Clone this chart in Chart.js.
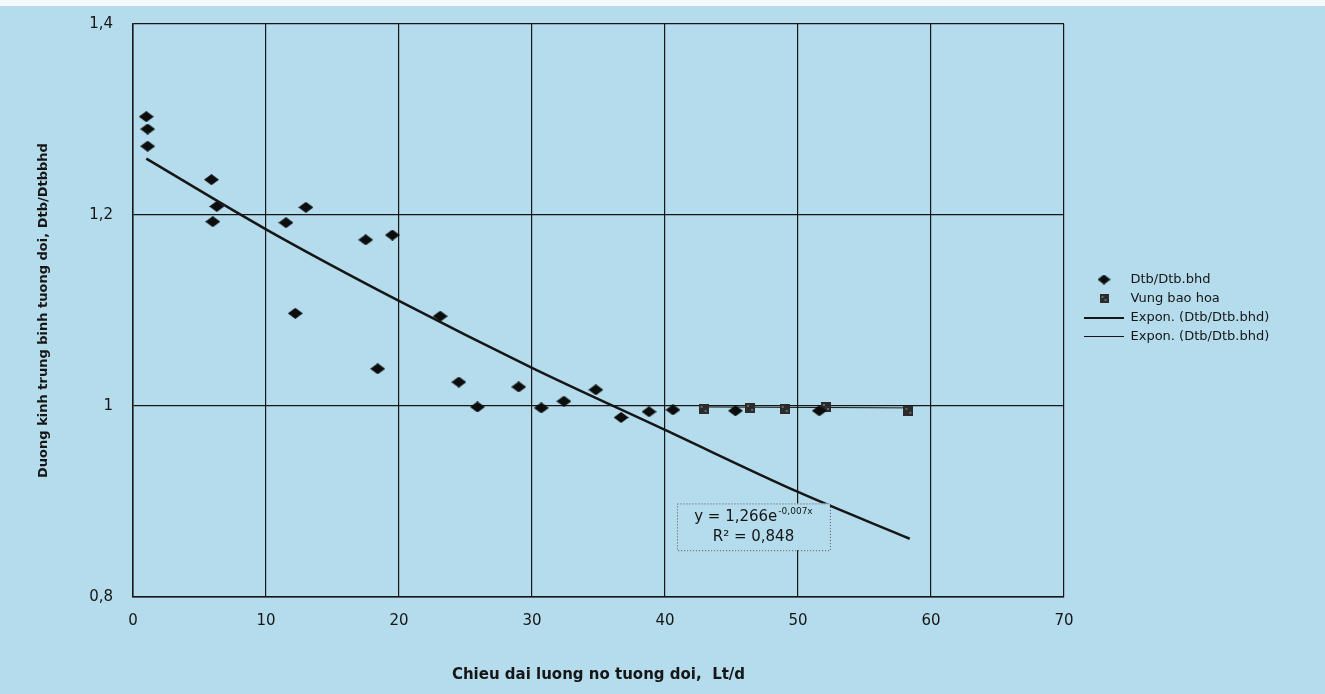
<!DOCTYPE html>
<html>
<head>
<meta charset="utf-8">
<script src="https://cdn.jsdelivr.net/npm/chart.js@4"></script>
<style>
  html, body { margin: 0; padding: 0; }
  #wrap { width: 1325px; height: 694px; background: linear-gradient(#f4f8f9 0 6px, #b4dcec 6px); }
</style>
</head>
<body>
<div id="wrap"><canvas id="chart" width="1325" height="694"></canvas></div>
<script>
// Dtb/Dtb.bhd (diamonds)
const dtbX = [1.0, 1.1, 1.1, 5.9, 6.3, 6.0, 11.5, 13.0, 17.5, 19.5, 12.2, 18.4, 23.1, 24.5, 25.9, 29.0, 30.7, 32.4, 34.8, 36.7, 38.8, 40.6, 45.3, 51.6]
const dtbY = [1.303, 1.290, 1.272, 1.237, 1.209, 1.193, 1.192, 1.208, 1.174, 1.179, 1.097, 1.039, 1.094, 1.025, 0.999, 1.020, 0.998, 1.005, 1.017, 0.988, 0.994, 0.996, 0.995, 0.995]

// Vung bao hoa (squares)
const vungX = [42.9, 46.4, 49.0, 52.1, 58.3]
const vungY = [0.997, 0.998, 0.997, 0.999, 0.995]

// trend lines
const trendX = [1, 10, 20, 30, 40, 50, 58.4]
const trendY = [1.259, 1.185, 1.110, 1.040, 0.975, 0.910, 0.861]
const trend2X = [42.9, 58.3]
const trend2Y = [0.999, 0.998]

const seriesNames = ["Dtb/Dtb.bhd", "Vung bao hoa", "Expon. (Dtb/Dtb.bhd)", "Expon. (Dtb/Dtb.bhd)"]
const yTickLabels = ["0,8", "1", "1,2", "1,4"]
const xTitle = "Chieu dai luong no tuong doi,  Lt/d"
const yTitle = "Duong kinh trung binh tuong doi, Dtb/Dtbbhd"
const eqLine1 = "y = 1,266e"
const eqSup = "-0,007x"
const eqLine2 = "R\u00b2 = 0,848"

const ink = "#161616"
const bg = "#b4dcec"
const fontFamily = "'DejaVu Sans'"

const toXY = (xs, ys) => xs.map((x, i) => ({ x: x, y: ys[i] }))

const makeDiamond = function (w, h) {
     const c = document.createElement("canvas")
     c.width = w; c.height = h
     const g = c.getContext("2d")
     g.fillStyle = "#0d0d0d"
     g.beginPath()
     g.moveTo(w / 2, 0); g.lineTo(w, h / 2); g.lineTo(w / 2, h); g.lineTo(0, h / 2)
     g.closePath(); g.fill()
     return c
}
const makeSquare = function (s) {
     const c = document.createElement("canvas")
     c.width = s; c.height = s
     const g = c.getContext("2d")
     g.fillStyle = "#2b2b2b"
     g.fillRect(0, 0, s, s)
     g.fillStyle = "#6a6a6a"
     g.fillRect(2, 2, 2, 2); g.fillRect(s - 4, s - 4, 2, 2)
     return c
}
const makeLine = function (w, lw) {
     const c = document.createElement("canvas")
     c.width = w; c.height = 5
     const g = c.getContext("2d")
     g.fillStyle = ink
     g.fillRect(0, 2, w, lw)
     return c
}

const diamond = makeDiamond(15, 11)
const square = makeSquare(10)
const legendIcons = [makeDiamond(13, 10), makeSquare(9), makeLine(40, 2), makeLine(40, 1)]

// legend sizing
const legendFontSize = 13
const legendPad = 6
const plotRight = 1064
const mctx = document.createElement("canvas").getContext("2d")
mctx.font = legendFontSize + "px " + fontFamily
const longest = Math.max(...seriesNames.map(s => mctx.measureText(s).width))
const legendW = legendPad + 40 + legendFontSize / 2 + longest + 10

const legendShift = {
     id: "legendShift",
     afterLayout(chart) {
          const lg = chart.legend
          const dx = 1078 - lg.left
          const dy = 267 - lg.top
          lg.left += dx; lg.right += dx
          lg.top += dy; lg.bottom += dy
     }
}

const equationBox = {
     id: "equationBox",
     afterDatasetsDraw(chart) {
          const { ctx, scales } = chart
          const l = scales.x.getPixelForValue(40.9)
          const r = scales.x.getPixelForValue(52.4)
          const t = scales.y.getPixelForValue(0.898)
          const b = scales.y.getPixelForValue(0.849)
          ctx.save()
          ctx.fillStyle = bg
          ctx.fillRect(l, t, r - l, b - t)
          ctx.strokeStyle = "#555"
          ctx.lineWidth = 1
          ctx.setLineDash([1, 2])
          ctx.strokeRect(l + 0.5, t + 0.5, r - l, b - t)
          ctx.setLineDash([])
          ctx.fillStyle = ink
          ctx.textBaseline = "middle"
          ctx.font = "15px " + fontFamily
          const w1 = ctx.measureText(eqLine1).width
          ctx.font = "9px " + fontFamily
          const w2 = ctx.measureText(eqSup).width
          const cx = (l + r) / 2
          const x0 = cx - (w1 + w2 + 1) / 2
          const y1 = t + (b - t) * 0.3
          const y2 = t + (b - t) * 0.72
          ctx.textAlign = "left"
          ctx.font = "15px " + fontFamily
          ctx.fillText(eqLine1, x0, y1)
          ctx.font = "9px " + fontFamily
          ctx.fillText(eqSup, x0 + w1 + 1, y1 - 6)
          ctx.textAlign = "center"
          ctx.font = "15px " + fontFamily
          ctx.fillText(eqLine2, cx, y2)
          ctx.restore()
     }
}

Chart.defaults.font.family = fontFamily
Chart.defaults.color = ink

const chart = new Chart(document.getElementById("chart"), {
     type: "scatter",
     data: {
          datasets: [
               {
                    label: seriesNames[0],
                    data: toXY(dtbX, dtbY),
                    pointStyle: diamond,
                    backgroundColor: ink,
                    borderColor: ink,
                    order: 1
               },
               {
                    label: seriesNames[1],
                    data: toXY(vungX, vungY),
                    pointStyle: square,
                    backgroundColor: "#2b2b2b",
                    borderColor: "#2b2b2b",
                    order: 2
               },
               {
                    label: seriesNames[2],
                    data: toXY(trendX, trendY),
                    showLine: true,
                    borderColor: ink,
                    backgroundColor: ink,
                    borderWidth: 2.5,
                    pointRadius: 0,
                    cubicInterpolationMode: "monotone",
                    order: 0
               },
               {
                    label: seriesNames[3],
                    data: toXY(trend2X, trend2Y),
                    showLine: true,
                    borderColor: ink,
                    backgroundColor: ink,
                    borderWidth: 1,
                    pointRadius: 0,
                    order: 3
               }
          ]
     },
     options: {
          responsive: false,
          animation: false,
          layout: { padding: { top: 24, left: 0, bottom: 0, right: 1325 - plotRight - legendW } },
          scales: {
               x: {
                    type: "linear",
                    min: 0,
                    max: 70,
                    ticks: { stepSize: 10, padding: 15, font: { size: 15 }, color: ink },
                    grid: { color: ink, lineWidth: 1.2, drawTicks: false },
                    border: { color: ink, width: 1.5 },
                    title: { display: true, text: xTitle, font: { size: 15, weight: "bold" }, color: ink, padding: { top: 0, bottom: 10 } },
                    afterFit: s => { s.height = 97 }
               },
               y: {
                    min: 0.8,
                    max: 1.4,
                    ticks: {
                         stepSize: 0.2,
                         padding: 20,
                         font: { size: 15 },
                         color: ink,
                         callback: (v, i) => yTickLabels[i]
                    },
                    grid: { color: ink, lineWidth: 1.2, drawTicks: false },
                    border: { color: ink, width: 1.5 },
                    title: { display: true, text: yTitle, font: { size: 13, weight: "bold" }, color: ink, padding: { top: 36, bottom: 0 } },
                    afterFit: s => { s.width = 133; s.paddingTop = 0; s.paddingBottom = 0 }
               }
          },
          plugins: {
               tooltip: { enabled: false },
               legend: {
                    position: "right",
                    align: "start",
                    labels: {
                         usePointStyle: true,
                         pointStyleWidth: 40,
                         boxHeight: legendFontSize,
                         padding: legendPad,
                         color: ink,
                         font: { size: legendFontSize },
                         sort: (a, b) => a.datasetIndex - b.datasetIndex,
                         generateLabels: function (chart) {
                              const items = Chart.defaults.plugins.legend.labels.generateLabels(chart)
                              items.forEach(it => { it.pointStyle = legendIcons[it.datasetIndex] })
                              return items
                         }
                    }
               }
          }
     },
     plugins: [legendShift, equationBox]
})
</script>
</body>
</html>
